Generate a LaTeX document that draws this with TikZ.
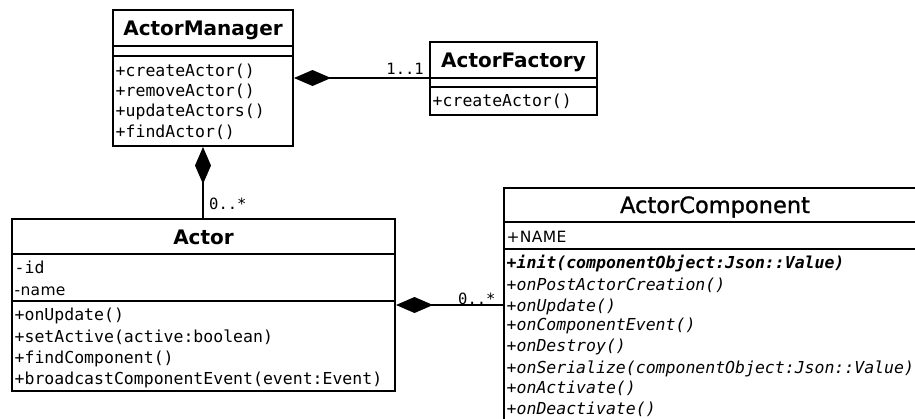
\documentclass[tikz,border=0pt]{standalone}
\usepackage{fontspec}
\setmainfont{DejaVu Sans}
\newfontfamily\umono{DejaVu Sans Mono}
\newfontfamily\usans[LetterSpace=2]{DejaVu Sans}
\newfontfamily\umedium[FakeBold=1]{DejaVu Sans}
\usetikzlibrary{arrows.meta}

\begin{document}
\begin{tikzpicture}[x=1pt,y=-1pt,
  classbox/.style={draw, line width=2pt, rectangle, inner sep=0pt},
  sep/.style={line width=2pt},
  title/.style={font=\fontsize{20}{24}\selectfont\bfseries, inner sep=0pt, anchor=base},
  ctitle/.style={font=\fontsize{22.5}{26}\selectfont\umedium, inner sep=0pt, anchor=base},
  member/.style={font=\fontsize{16.5}{19}\selectfont\umono, inner sep=0pt, anchor=base west},
  smember/.style={font=\fontsize{15.5}{18}\selectfont\usans, inner sep=0pt, anchor=base west},
  vmember/.style={member, font=\fontsize{16.5}{19}\selectfont\umono\itshape},
  mult/.style={font=\fontsize{15.5}{18}\selectfont\umono, inner sep=0pt},
  compose/.style={line width=2pt, {Diamond[length=37pt,width=16pt]}-},
]
% canvas
\fill[white] (0,0) rectangle (915,418);
\useasboundingbox (0,0) rectangle (915,418);

% ---------- ActorManager ----------
\node[classbox, minimum width=180pt, minimum height=136pt] (am) at (203,78) {};
\draw[sep] ([yshift=-37pt]am.north west) -- ([yshift=-37pt]am.north east);
\draw[sep] ([yshift=-47pt]am.north west) -- ([yshift=-47pt]am.north east);
\node[title] (am-t) at (203,35.5) {ActorManager};
\node[member] (am-1) at (115.5,76) {+createActor()};
\node[member] (am-2) at (115.5,96) {+removeActor()};
\node[member] (am-3) at (115.5,116.5) {+updateActors()};
\node[member] (am-4) at (115.5,137) {+findActor()};

% ---------- ActorFactory ----------
\node[classbox, minimum width=167pt, minimum height=73pt] (af) at (513.5,78.5) {};
\draw[sep] ([yshift=-37pt]af.north west) -- ([yshift=-37pt]af.north east);
\draw[sep] ([yshift=-46pt]af.north west) -- ([yshift=-46pt]af.north east);
\node[title] (af-t) at (513.5,67.5) {ActorFactory};
\node[member] (af-1) at (432.5,106) {+createActor()};

% ---------- Actor ----------
\node[classbox, minimum width=383pt, minimum height=172pt] (actor) at (203.5,305) {};
\draw[sep] ([yshift=-36pt]actor.north west) -- ([yshift=-36pt]actor.north east);
\draw[sep] ([yshift=-83pt]actor.north west) -- ([yshift=-83pt]actor.north east);
\node[title] (actor-t) at (203.5,244.5) {Actor};
\node[member] (actor-a1) at (14.5,273) {-id};
\node[smember] (actor-a2) at (14.5,295) {-name};
\node[member] (actor-1) at (14.5,320) {+onUpdate()};
\node[member] (actor-2) at (14.5,342) {+setActive(active:boolean)};
\node[member] (actor-3) at (14.5,363) {+findComponent()};
\node[member] (actor-4) at (14.5,384) {+broadcastComponentEvent(event:Event)};

% ---------- ActorComponent ----------
\node[classbox, minimum width=414pt, minimum height=234pt] (comp) at (711,305) {};
\draw[sep] ([yshift=-35pt]comp.north west) -- ([yshift=-35pt]comp.north east);
\draw[sep] ([yshift=-62pt]comp.north west) -- ([yshift=-62pt]comp.north east);
\node[ctitle] (comp-t) at (715,213) {ActorComponent};
\node[smember] (comp-a1) at (506.5,242) {+NAME};
\node[member, font=\fontsize{16.5}{19}\selectfont\umono\bfseries\itshape] (comp-1) at (506.5,268) {+init(componentObject:Json::Value)};
\node[vmember] (comp-2) at (506.5,290) {+onPostActorCreation()};
\node[vmember] (comp-3) at (506.5,311) {+onUpdate()};
\node[vmember] (comp-4) at (506.5,330.5) {+onComponentEvent()};
\node[vmember] (comp-5) at (506.5,351) {+onDestroy()};
\node[vmember] (comp-6) at (506.5,373) {+onSerialize(componentObject:Json::Value)};
\node[vmember] (comp-7) at (506.5,393) {+onActivate()};
\node[vmember] (comp-8) at (506.5,414) {+onDeactivate()};

% ---------- compositions ----------
\draw[compose] (am.east) -- (af.west |- am.east);
\draw[compose] (am.south) -- (am.south |- actor.north);
\draw[compose] (actor.east) -- (comp.west |- actor.east);

% multiplicities
\node[mult, anchor=base east] (m1) at (424,74) {1..1};
\node[mult, anchor=base west] (m2) at (209,209.5) {0..*};
\node[mult, anchor=base west] (m3) at (458,304) {0..*};
\end{tikzpicture}
\end{document}
